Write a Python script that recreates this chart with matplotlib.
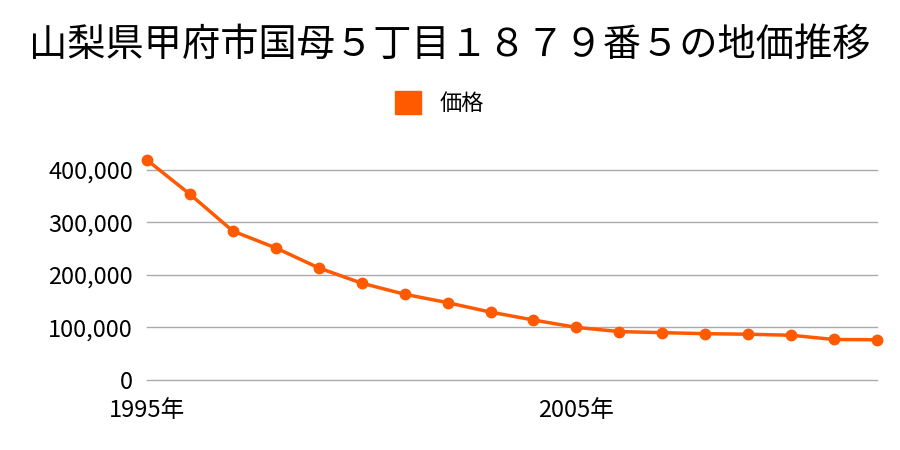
import matplotlib.pyplot as plt
from matplotlib.patches import Patch

plt.rcParams['font.family'] = ['Noto Sans CJK JP', 'DejaVu Sans']

years = list(range(1995, 2013))
prices = [418000, 353000, 283000, 251000, 213000, 184000, 163000, 147000, 129000,
          114000, 100000, 92000, 90000, 88000, 87000, 85000, 77000, 76500]
yticks = [0, 100000, 200000, 300000, 400000]
xticks = [1995, 2005]
title = "山梨県甲府市国母５丁目１８７９番５の地価推移"
color = "#ff5a00"

fig = plt.figure(figsize=(9, 4.5), dpi=100)
ax = fig.add_axes([147 / 900, 1 - 380 / 450, 730 / 900, 221 / 450])

ax.plot(years, prices, color=color, lw=2.5, marker="o", ms=7.5, clip_on=False,
        zorder=3)

ax.set_xlim(1995, 2012)
ax.set_ylim(0, 420000)
ax.set_yticks(yticks)
ax.set_yticklabels([f"{v:,}" for v in yticks])
ax.set_xticks(xticks)
ax.set_xticklabels([f"{y}年" for y in xticks])
ax.grid(axis="y", color="#aaaaaa", lw=1)
for gl in ax.get_ygridlines():
    gl.set_clip_on(False)
ax.set_axisbelow(True)
for s in ax.spines.values():
    s.set_visible(False)
ax.tick_params(axis="y", length=0, pad=10, labelsize=17)
ax.tick_params(axis="x", length=0, pad=14, labelsize=17)

fig.text(0.5, 0.9, title, ha="center", va="center", fontsize=27.5)
fig.legend(handles=[Patch(color=color, label="価格")], loc="center",
           bbox_to_anchor=(0.488, 1 - 103 / 450), frameon=False, fontsize=16,
           handlelength=1.2, handleheight=1.2, handletextpad=0.8)

fig.savefig("out.png")
